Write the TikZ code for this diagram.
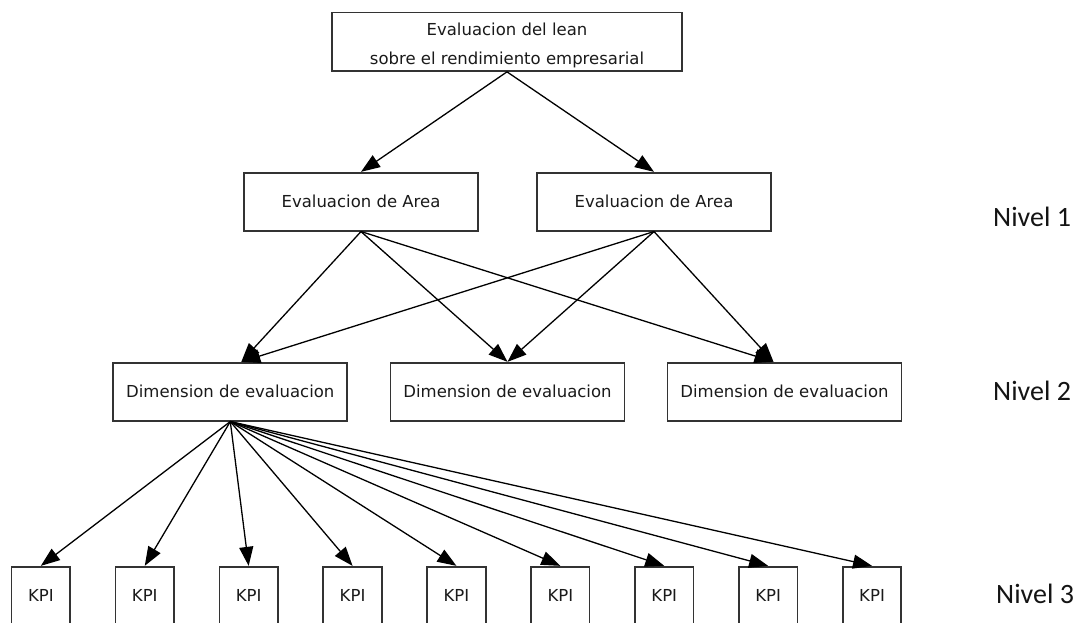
\documentclass[tikz,border=0pt]{standalone}
\usepackage{fontspec}
\setmainfont{DejaVu Sans}
\newfontfamily\nivelfont{Carlito}
\usetikzlibrary{arrows.meta,calc}
\definecolor{boxgray}{HTML}{333333}
\definecolor{txtgray}{HTML}{1A1A1A}
\begin{document}
\begin{tikzpicture}[x=1pt,y=-1pt,
  box/.style={draw=boxgray, line width=1.7pt, rectangle, inner sep=0pt,
    minimum height=58pt, text=txtgray, align=center,
    font=\fontsize{16.5}{29}\selectfont},
  wide/.style={box, minimum width=234pt},
  kpi/.style={box, minimum width=58.5pt},
  conn/.style={line width=1.3pt, draw=black,
    -{Triangle[length=19pt,width=14pt]}},
  nivel/.style={anchor=base west, inner sep=0pt, text=black!92,
    font=\nivelfont\fontsize{28}{34}\selectfont}]
\useasboundingbox (0,0) rectangle (1082,623);
\fill[white] (0,0) rectangle (1082,623);
\clip (0,0) rectangle (1082,623);

% nodes
\node[box, minimum width=350pt, text height=52.6pt, text depth=6pt] (top) at (507,41.7)
  {Evaluacion del lean\\sobre el rendimiento empresarial};
\node[wide] (a1) at (361,201.7) {Evaluacion de Area};
\node[wide] (a2) at (654,201.7) {Evaluacion de Area};
\node[wide] (d1) at (230.3,391.7) {Dimension de evaluacion};
\node[wide] (d2) at (507.5,391.7) {Dimension de evaluacion};
\node[wide] (d3) at (784.5,391.7) {Dimension de evaluacion};
\foreach \i in {1,...,9}{
  \node[kpi] (k\i) at ({40.85+103.9*(\i-1)},595.7) {KPI};
}
\coordinate (d1in) at ([xshift=11pt]d1.north);
\coordinate (d3in) at ([xshift=-11pt]d3.north);

% level labels
\node[nivel] (n1) at (993,226) {Nivel 1};
\node[nivel] (n2) at (993,400.7) {Nivel 2};
\node[nivel] (n3) at (996,603) {Nivel 3};

% connectors
\draw[conn] (top.south) -- (a1.north);
\draw[conn] (top.south) -- (a2.north);
\draw[conn] (a1.south) -- (d1in);
\draw[conn] (a1.south) -- (d2.north);
\draw[conn] (a1.south) -- (d3in);
\draw[conn] (a2.south) -- (d1in);
\draw[conn] (a2.south) -- (d2.north);
\draw[conn] (a2.south) -- (d3in);
\foreach \i in {1,...,9}{
  \draw[conn] (d1.south) -- (k\i.north);
}
\end{tikzpicture}
\end{document}
